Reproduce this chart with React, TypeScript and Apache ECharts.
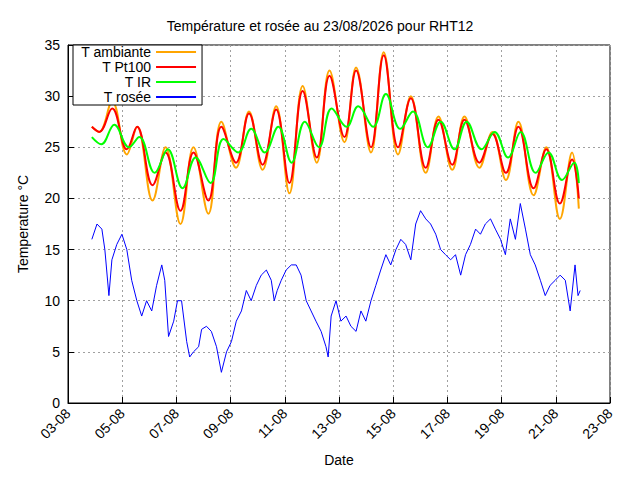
import { useEffect, useRef } from "react";
import * as echarts from "echarts";

// time in days of August (decimal)
const tempTimes = [3.88, 4.15, 4.63, 5.17, 5.55, 6.12, 6.6, 7.15, 7.63, 8.18, 8.66, 9.2, 9.68, 10.18, 10.68, 11.17, 11.66, 12.18, 12.65, 13.2, 13.63, 14.18, 14.65, 15.18, 15.65, 16.2, 16.67, 17.18, 17.63, 18.18, 18.66, 19.16, 19.62, 20.18, 20.65, 21.15, 21.6, 21.85];
const ambiante = [27, 26.5, 29.5, 24.3, 27, 19.8, 25, 17.5, 25, 18.5, 27.5, 23, 28.5, 22.8, 29, 20.5, 31, 23.5, 32.5, 25.5, 32.8, 24.5, 34.3, 24.3, 30, 22.5, 28, 22.8, 28, 23, 26.5, 21.8, 27.5, 20.3, 25, 18, 24.5, 19];
const pt100 = [27, 26.5, 28.8, 24.8, 27, 21.3, 24.5, 18.8, 24.5, 19.8, 27, 23.5, 28.3, 23.3, 28.7, 21.5, 30.5, 24, 32, 26, 32.5, 25, 34, 25, 29.8, 23, 27.7, 23.3, 27.7, 23.5, 26.3, 22.5, 27, 21, 24.8, 19.5, 23.8, 20];
const irTimes = [3.88, 4.23, 4.71, 5.25, 5.63, 6.2, 6.68, 7.23, 7.71, 8.26, 8.74, 9.28, 9.76, 10.26, 10.76, 11.25, 11.74, 12.26, 12.73, 13.28, 13.71, 14.26, 14.73, 15.26, 15.73, 16.28, 16.75, 17.26, 17.71, 18.26, 18.74, 19.24, 19.7, 20.26, 20.73, 21.23, 21.68, 21.85];
const ir = [26, 25.3, 27.2, 25, 26, 22.5, 24.8, 21, 24, 21.5, 25.8, 24.5, 26.8, 24.5, 27, 23.5, 27.5, 25, 28.8, 27, 29, 27, 30.2, 26.8, 28.5, 25, 27.5, 24.8, 27.5, 24.8, 26.5, 24, 26.5, 22.5, 24.5, 21.8, 23.5, 21.5];
const roseeTimes = [3.88, 4.07, 4.25, 4.36, 4.51, 4.62, 4.8, 4.99, 5.17, 5.35, 5.54, 5.72, 5.9, 6.09, 6.27, 6.46, 6.57, 6.71, 6.9, 7.04, 7.19, 7.38, 7.49, 7.63, 7.82, 7.93, 8.11, 8.29, 8.48, 8.66, 8.85, 9.03, 9.21, 9.4, 9.58, 9.76, 9.95, 10.13, 10.32, 10.5, 10.61, 10.72, 10.87, 11.05, 11.24, 11.42, 11.6, 11.79, 11.97, 12.15, 12.34, 12.52, 12.6, 12.71, 12.89, 13.07, 13.26, 13.44, 13.63, 13.81, 13.99, 14.18, 14.36, 14.54, 14.73, 14.91, 15.1, 15.28, 15.46, 15.65, 15.83, 16.01, 16.2, 16.38, 16.57, 16.75, 16.93, 17.12, 17.3, 17.49, 17.67, 17.85, 18.04, 18.22, 18.4, 18.59, 18.77, 18.96, 19.14, 19.32, 19.51, 19.69, 19.88, 20.06, 20.24, 20.43, 20.61, 20.79, 20.98, 21.16, 21.35, 21.53, 21.71, 21.82, 21.9];
const rosee = [16, 17.5, 17, 15, 10.5, 14, 15.5, 16.5, 15, 12, 10, 8.5, 10, 9, 11.5, 13.5, 12, 6.5, 8, 10, 10, 6, 4.5, 5, 5.5, 7.2, 7.5, 7, 5.5, 3, 5, 6, 8, 9, 11, 10, 11.5, 12.5, 13, 12, 10, 11, 12, 13, 13.5, 13.5, 12.5, 10, 9, 8, 7, 5.5, 4.5, 8.5, 10, 8, 8.5, 7.5, 7, 9, 8, 10, 11.5, 13, 14.5, 13.5, 15, 16, 15.5, 14, 17.5, 18.8, 18, 17.5, 16.5, 15, 14.5, 14, 14.5, 12.5, 14.5, 15.5, 17, 16.5, 17.5, 18, 17, 16, 14.5, 18, 16, 19.5, 17, 14.5, 13.5, 12, 10.5, 11.5, 12, 12.5, 12, 9, 13.5, 10.5, 11];

const zip = (t: number[], v: number[]) => t.map((x, i) => [x, v[i]]);

export default function App() {
  const ref = useRef<HTMLDivElement>(null);

  useEffect(() => {
    if (!ref.current) return;
    const chart = echarts.init(ref.current, null, { renderer: "svg" });
    const font = "Liberation Sans, Arial, sans-serif";
    const dotted = { show: true, lineStyle: { color: "#a0a0a0", type: [2, 3] as any, width: 1 } };
    chart.setOption({
      animation: false,
      textStyle: { fontFamily: font, color: "#000" },
      title: {
        text: "Température et rosée au 23/08/2026 pour RHT12",
        left: "center",
        top: 6,
        textStyle: { fontSize: 14, fontWeight: "normal", fontFamily: font, color: "#000" },
      },
      legend: {
        left: 65,
        top: 37,
        orient: "vertical",
        align: "right",
        itemWidth: 40,
        itemHeight: 10,
        itemGap: 1,
        padding: [0, 6, 1, 8],
        borderColor: "#000",
        borderWidth: 1,
        backgroundColor: "#fff",
        textStyle: { fontSize: 14, fontFamily: font, color: "#000" },
        data: ["T ambiante", "T Pt100", "T IR", "T rosée"].map((n) => ({ name: n, icon: "path://M0,4L40,4L40,6L0,6Z" })),
      },
      grid: { left: 58, right: 22, top: 37, bottom: 62, show: true, borderColor: "#000", borderWidth: 1 },
      xAxis: {
        type: "value",
        min: 3,
        max: 23,
        interval: 2,
        name: "Date",
        nameLocation: "middle",
        nameGap: 50,
        nameTextStyle: { fontSize: 14, color: "#000" },
        axisLine: { lineStyle: { color: "#000" } },
        axisTick: { inside: true, length: 6, lineStyle: { color: "#000" } },
        axisLabel: {
          rotate: 45,
          fontSize: 14,
          color: "#000",
          formatter: (v: number) => String(v).padStart(2, "0") + "-08",
        },
        splitLine: dotted,
      },
      yAxis: {
        type: "value",
        min: 0,
        max: 35,
        interval: 5,
        name: "Temperature °C",
        nameLocation: "middle",
        nameGap: 38,
        nameTextStyle: { fontSize: 14, color: "#000" },
        axisLine: { show: true, lineStyle: { color: "#000" } },
        axisTick: { inside: true, length: 6, lineStyle: { color: "#000" } },
        axisLabel: { fontSize: 14, color: "#000" },
        splitLine: dotted,
      },
      series: [
        { name: "T ambiante", type: "line", data: zip(tempTimes, ambiante), smooth: 0.4, showSymbol: false, color: "#ffa500", lineStyle: { width: 2 } },
        { name: "T Pt100", type: "line", data: zip(tempTimes, pt100), smooth: 0.4, showSymbol: false, color: "#ff0000", lineStyle: { width: 2 } },
        { name: "T IR", type: "line", data: zip(irTimes, ir), smooth: 0.4, showSymbol: false, color: "#00ff00", lineStyle: { width: 2 } },
        { name: "T rosée", type: "line", data: zip(roseeTimes, rosee), showSymbol: false, color: "#0000ff", lineStyle: { width: 1 } },
      ],
    });
    return () => chart.dispose();
  }, []);

  return <div ref={ref} style={{ width: 624, height: 464 }} />;
}
